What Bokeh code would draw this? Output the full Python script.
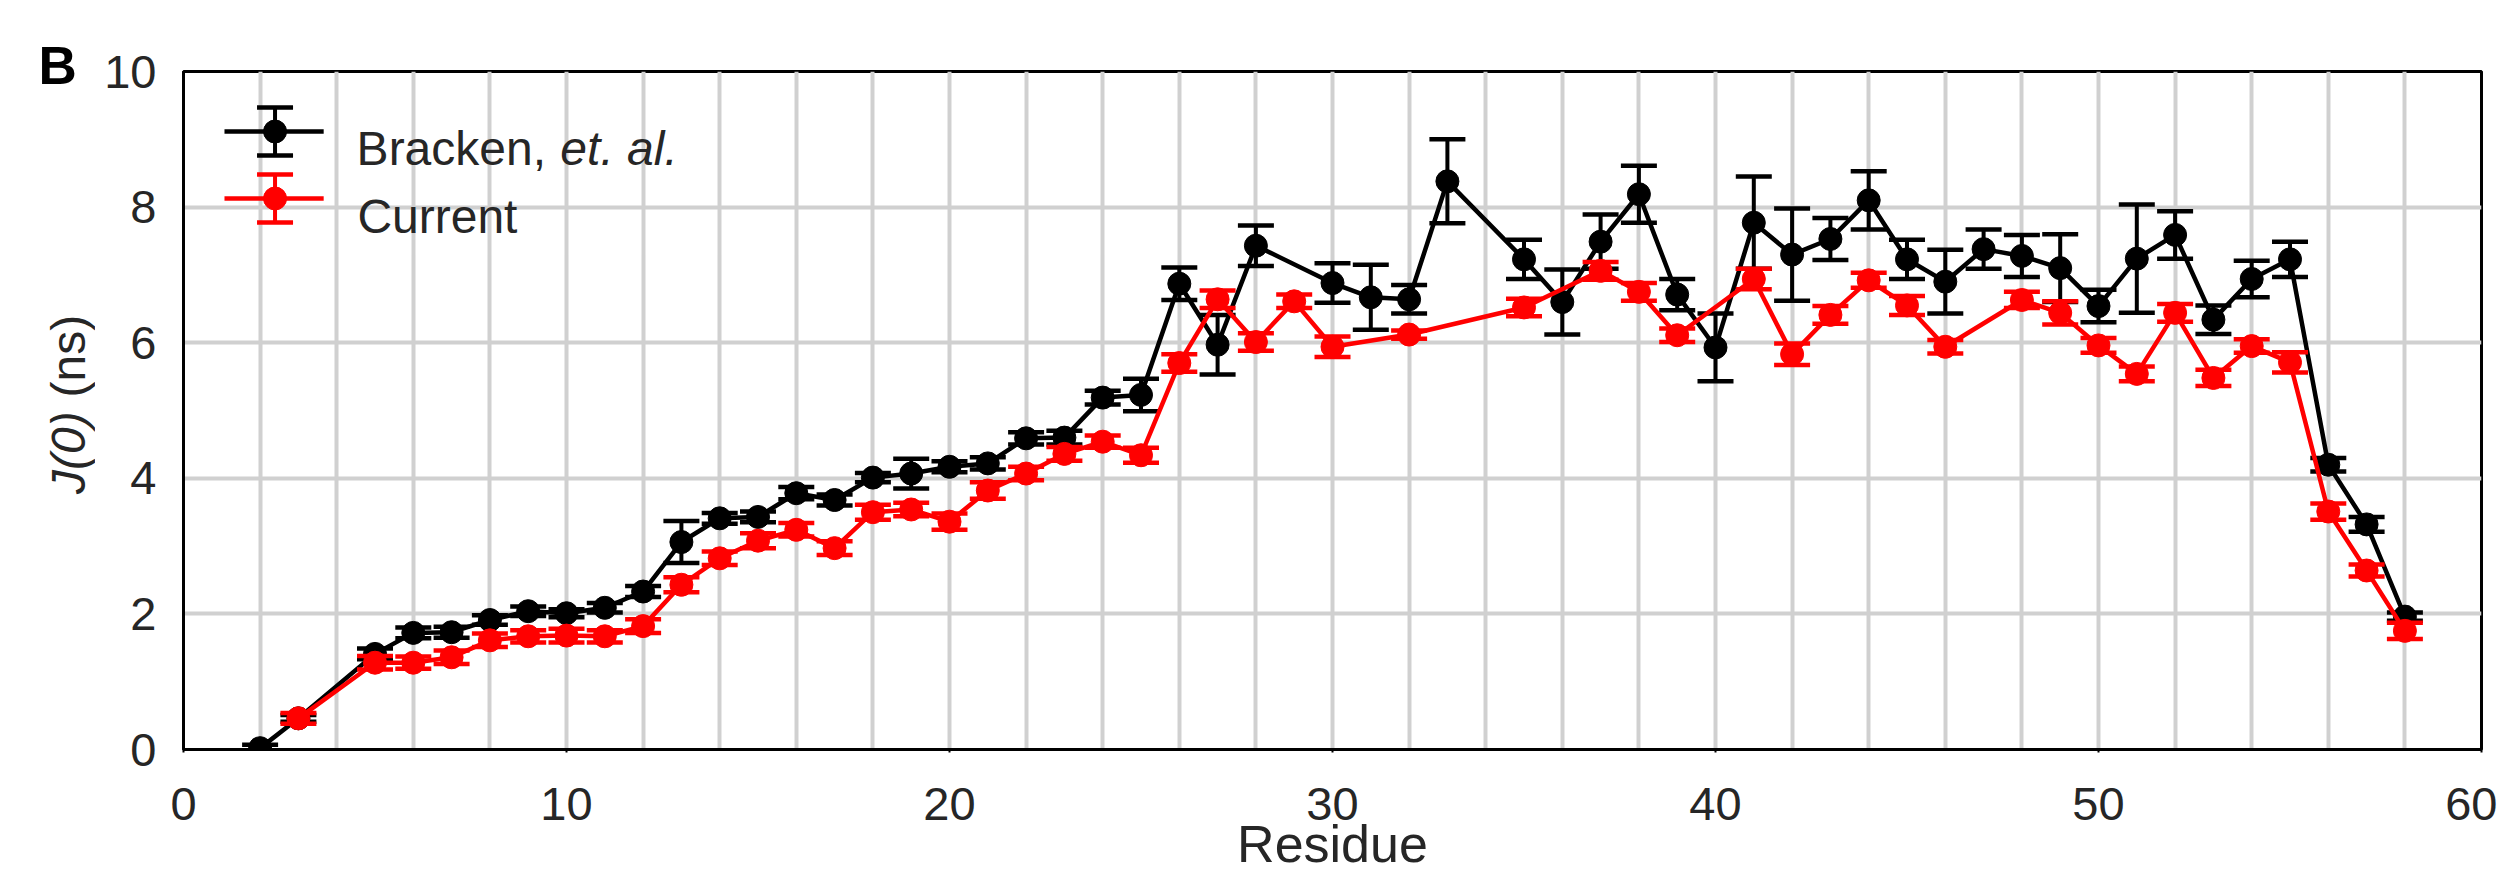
from math import pi
from bokeh.plotting import figure
from bokeh.layouts import row
from bokeh.models import Range1d, SingleIntervalTicker, Label, ColumnDataSource, Title
from bokeh.embed import file_html
from bokeh.resources import INLINE

# ---------------- data ----------------
residue_bracken = [2, 3, 5, 6, 7, 8, 9, 10, 11, 12, 13, 14, 15, 16, 17, 18, 19, 20, 21, 22, 23, 24, 25,
                   26, 27, 28, 30, 31, 32, 33, 35, 36, 37, 38, 39, 40, 41, 42, 43, 44, 45, 46, 47, 48,
                   49, 50, 51, 52, 53, 54, 55, 56, 57, 58]
j0_bracken = [0.02, 0.46, 1.41, 1.72, 1.73, 1.91, 2.04, 2.01, 2.09, 2.33, 3.06, 3.41, 3.43, 3.78, 3.68,
              4.01, 4.07, 4.17, 4.22, 4.59, 4.60, 5.19, 5.23, 6.87, 5.97, 7.43, 6.88, 6.67, 6.64, 8.38,
              7.23, 6.60, 7.49, 8.19, 6.71, 5.93, 7.77, 7.30, 7.53, 8.10, 7.23, 6.90, 7.38, 7.28, 7.10,
              6.54, 7.24, 7.59, 6.34, 6.94, 7.23, 4.20, 3.32, 1.96]
err_bracken = [0.05, 0.05, 0.08, 0.08, 0.08, 0.07, 0.07, 0.06, 0.07, 0.08, 0.31, 0.08, 0.08, 0.09, 0.08,
               0.07, 0.22, 0.08, 0.09, 0.09, 0.10, 0.10, 0.24, 0.24, 0.44, 0.30, 0.29, 0.48, 0.21, 0.62,
               0.29, 0.48, 0.40, 0.42, 0.23, 0.50, 0.68, 0.68, 0.31, 0.43, 0.29, 0.47, 0.29, 0.31, 0.50,
               0.24, 0.80, 0.35, 0.21, 0.27, 0.26, 0.10, 0.11, 0.06]

residue_current = [3, 5, 6, 7, 8, 9, 10, 11, 12, 13, 14, 15, 16, 17, 18, 19, 20, 21, 22, 23, 24, 25, 26,
                   27, 28, 29, 30, 32, 35, 37, 38, 39, 41, 42, 43, 44, 45, 46, 48, 49, 50, 51, 52, 53,
                   54, 55, 56, 57, 58]
j0_current = [0.46, 1.28, 1.28, 1.36, 1.61, 1.67, 1.68, 1.67, 1.82, 2.43, 2.82, 3.08, 3.24, 2.97, 3.50,
              3.54, 3.36, 3.82, 4.07, 4.36, 4.54, 4.34, 5.70, 6.64, 6.01, 6.61, 5.94, 6.12, 6.52, 7.06,
              6.75, 6.11, 6.94, 5.83, 6.41, 6.92, 6.55, 5.94, 6.63, 6.44, 5.96, 5.54, 6.44, 5.48, 5.95,
              5.71, 3.51, 2.64, 1.75]
err_current = [0.08, 0.10, 0.09, 0.10, 0.10, 0.09, 0.10, 0.09, 0.10, 0.11, 0.10, 0.11, 0.10, 0.10, 0.11,
               0.10, 0.12, 0.12, 0.10, 0.10, 0.09, 0.11, 0.13, 0.13, 0.13, 0.10, 0.15, 0.06, 0.13, 0.13,
               0.13, 0.10, 0.15, 0.16, 0.13, 0.11, 0.14, 0.10, 0.12, 0.17, 0.11, 0.11, 0.13, 0.12, 0.10,
               0.15, 0.12, 0.09, 0.12]

x_ticks_interval = 10
y_ticks_interval = 2
grid_interval = 2

# ---------------- style ----------------
FONT = "Liberation Sans"
TXT = "#262626"
BLACK = "#000000"
RED = "#ff0000"

TOTAL_W, TOTAL_H = 2497, 875
LEFT_W = 95
BORDER_TOP, BORDER_BOTTOM = 71, 126

# ---- main plot ----
p = figure(width=TOTAL_W - LEFT_W, height=TOTAL_H, x_range=Range1d(0, 60), y_range=Range1d(0, 10),
           output_backend="svg", toolbar_location=None,
           min_border_left=88, min_border_right=16,
           min_border_top=BORDER_TOP, min_border_bottom=BORDER_BOTTOM)
p.background_fill_color = "white"
p.border_fill_color = "white"
p.outline_line_color = "black"
p.outline_line_width = 3

p.xaxis.ticker = SingleIntervalTicker(interval=x_ticks_interval, num_minor_ticks=0)
p.yaxis.ticker = SingleIntervalTicker(interval=y_ticks_interval, num_minor_ticks=0)
p.xgrid.ticker = SingleIntervalTicker(interval=grid_interval, num_minor_ticks=0)
p.ygrid.ticker = SingleIntervalTicker(interval=grid_interval, num_minor_ticks=0)
for g in (p.xgrid, p.ygrid):
    g.grid_line_color = "#d0d0d0"
    g.grid_line_width = 4

for ax in (p.xaxis, p.yaxis):
    ax.axis_line_color = "black"
    ax.axis_line_width = 3
    ax.major_label_text_font = FONT
    ax.major_label_text_font_size = "47px"
    ax.major_label_text_color = TXT
    ax.minor_tick_line_color = None
    ax.major_tick_in = 0
p.xaxis.major_tick_out = 3
p.xaxis.major_tick_line_width = 2
p.xaxis.major_label_standoff = 35
p.yaxis.major_tick_out = 0
p.yaxis.major_tick_line_color = None
p.yaxis.major_label_standoff = 27

p.xaxis.axis_label = "Residue"
p.xaxis.axis_label_text_font = FONT
p.xaxis.axis_label_text_font_size = "52px"
p.xaxis.axis_label_text_font_style = "normal"
p.xaxis.axis_label_text_color = TXT
p.xaxis.axis_label_standoff = -8


def draw_series(xs, ys, es, color):
    src = ColumnDataSource(dict(x=xs, y=ys,
                                lo=[y - e for y, e in zip(ys, es)],
                                hi=[y + e for y, e in zip(ys, es)]))
    p.line("x", "y", source=src, line_color=color, line_width=4.5)
    p.segment(x0="x", y0="lo", x1="x", y1="hi", source=src, line_color=color, line_width=4)
    p.scatter("x", "hi", source=src, marker="dash", size=36, line_color=color, line_width=4.5)
    p.scatter("x", "lo", source=src, marker="dash", size=36, line_color=color, line_width=4.5)
    p.scatter("x", "y", source=src, marker="circle", size=23, fill_color=color, line_color=color)


draw_series(residue_bracken, j0_bracken, err_bracken, BLACK)
draw_series(residue_current, j0_current, err_current, RED)

# ---------------- legend (manual, to allow italic "et. al.") ----------------
LEG_LINE_X = (1.07, 3.66)
LEG_MARK_X = 2.39
LEG_ROWS_Y = (9.115, 8.127)
LEG_ERR = 0.354
for ly, color in zip(LEG_ROWS_Y, (BLACK, RED)):
    p.line(list(LEG_LINE_X), [ly, ly], line_color=color, line_width=4.5)
    p.segment(x0=[LEG_MARK_X], y0=[ly - LEG_ERR], x1=[LEG_MARK_X], y1=[ly + LEG_ERR],
              line_color=color, line_width=4)
    p.scatter([LEG_MARK_X, LEG_MARK_X], [ly - LEG_ERR, ly + LEG_ERR], marker="dash", size=36,
              line_color=color, line_width=4.5)
    p.scatter([LEG_MARK_X], [ly], marker="circle", size=23, fill_color=color, line_color=color)


def label(fig, x, y, text, size="48px", style="normal", color=TXT, align="left", angle=0.0,
          font=FONT, baseline="alphabetic"):
    fig.add_layout(Label(x=x, y=y, text=text, text_font=font, text_font_size=size,
                         text_font_style=style, text_color=color, text_align=align,
                         text_baseline=baseline, angle=angle))


label(p, 4.52, 8.864, "Bracken, ")
label(p, 9.84, 8.864, "et. al.", style="italic")
label(p, 4.54, 7.86, "Current")

# ---- left strip: panel letter and y-axis title (mixed italic) ----
# its frame is aligned with the main frame, so use page-pixel ranges (y measured from page bottom)
lf = figure(width=LEFT_W, height=TOTAL_H,
            x_range=Range1d(0, LEFT_W), y_range=Range1d(BORDER_BOTTOM, TOTAL_H - BORDER_TOP),
            output_backend="svg", toolbar_location=None, x_axis_type=None, y_axis_type=None,
            min_border_left=0, min_border_right=0,
            min_border_top=BORDER_TOP, min_border_bottom=BORDER_BOTTOM)
lf.outline_line_color = None
lf.xgrid.visible = False
lf.ygrid.visible = False
lf.background_fill_color = "white"
lf.border_fill_color = "white"

lf.add_layout(Title(text="B", align="left", offset=38, vertical_align="bottom", standoff=-46,
                    text_font=FONT, text_font_size="53px", text_font_style="bold",
                    text_color="black"), "above")
label(lf, 68, TOTAL_H - 493.5, "J(0)", style="italic", angle=pi / 2, baseline="middle")
label(lf, 68, TOTAL_H - 397, "(ns)", angle=pi / 2, baseline="middle")

layout = row(lf, p, spacing=0)
open("out.html", "w").write(file_html(layout, INLINE))
